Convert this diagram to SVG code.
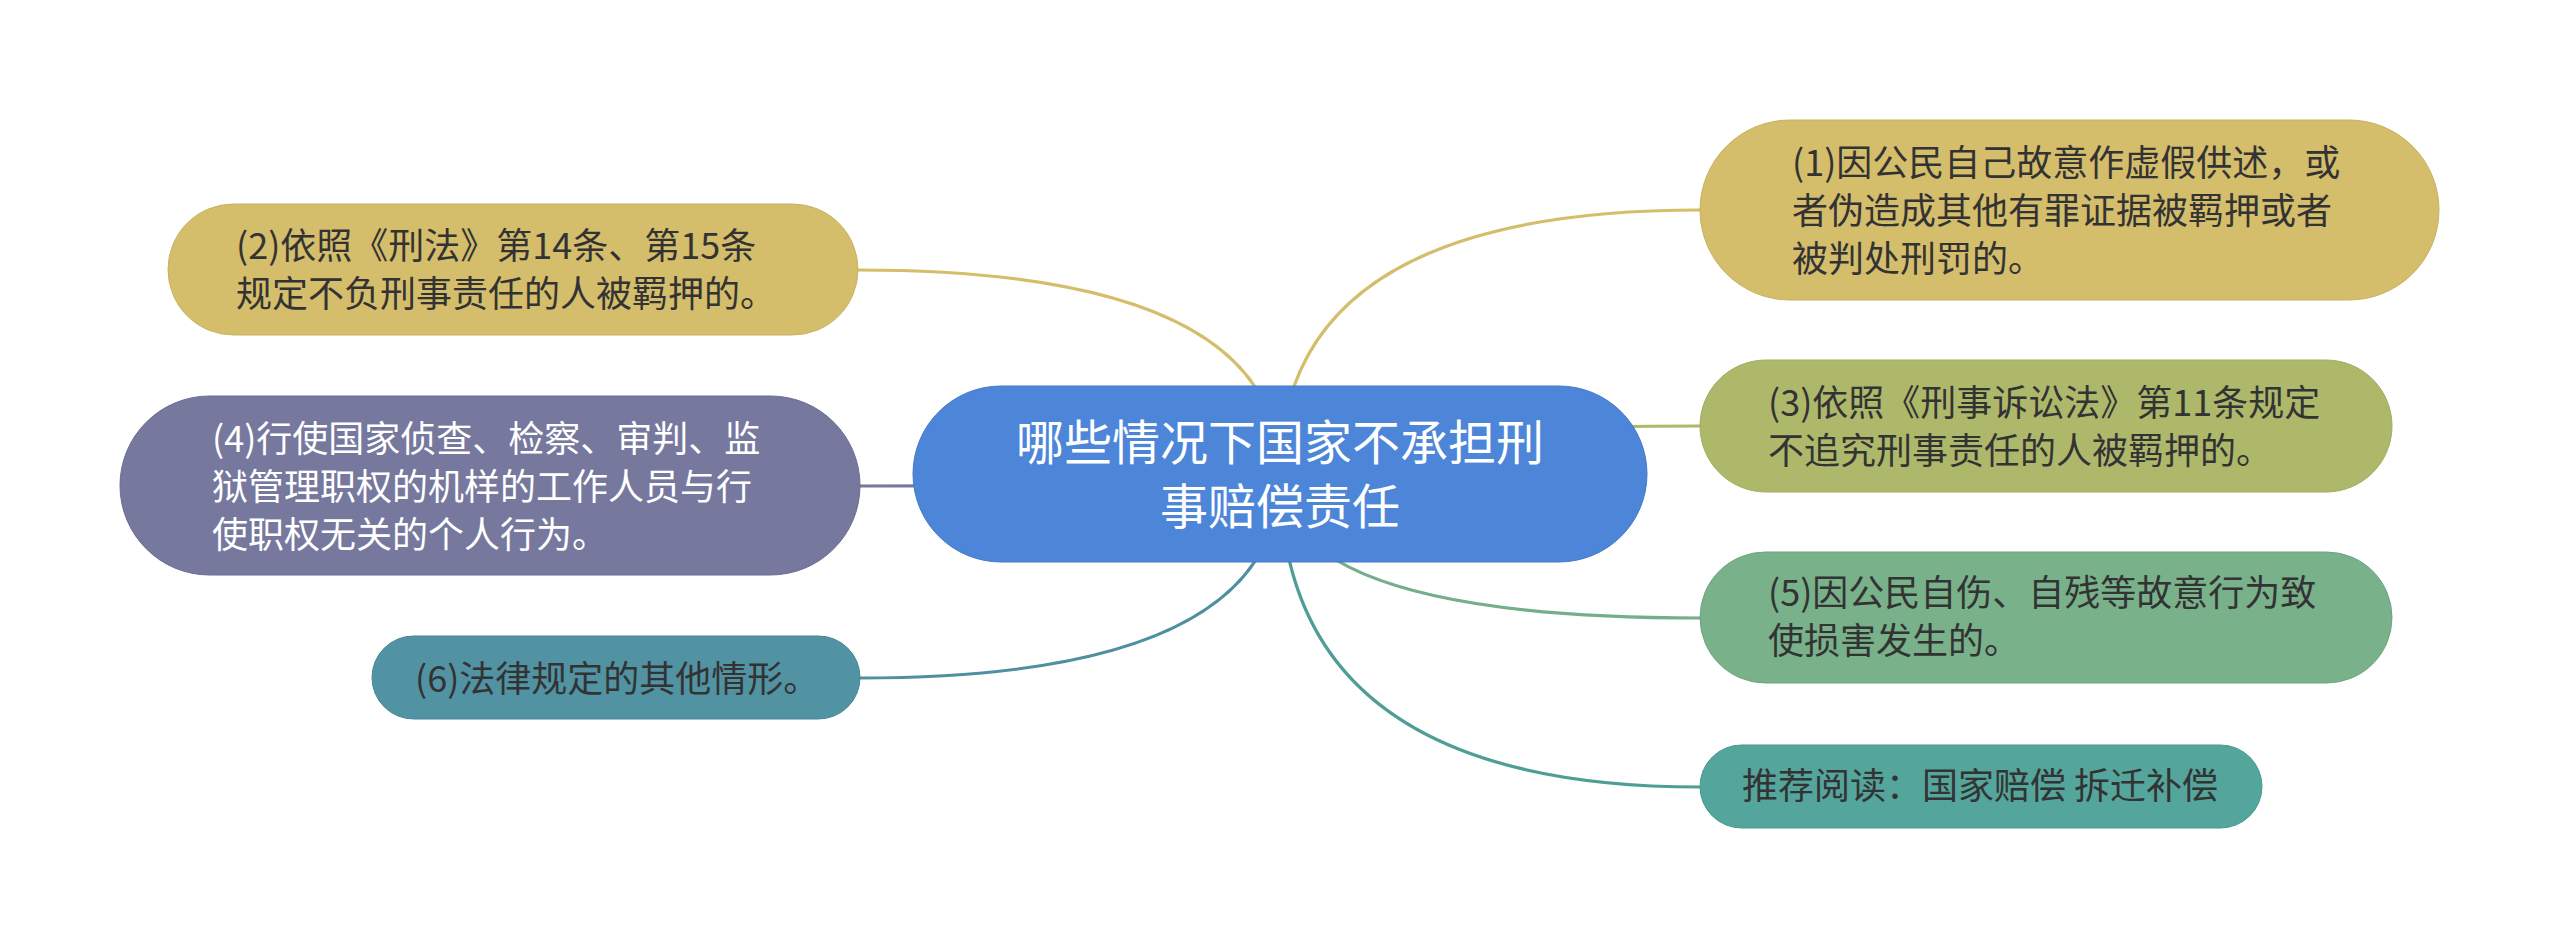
<svg xmlns="http://www.w3.org/2000/svg" width="2560" height="948" viewBox="0 0 2560 948">
  <style>
    .t { font-family: "Noto Sans CJK SC", "Noto Sans", sans-serif; font-size: 36px; fill: #333333; }
    .tw { font-family: "Noto Sans CJK SC", "Noto Sans", sans-serif; font-size: 36px; fill: #ffffff; }
    .root { font-family: "Noto Sans CJK SC", "Noto Sans", sans-serif; font-size: 48px; fill: #ffffff; text-anchor: middle; }
    .c { fill: none; stroke-width: 3.2; stroke-linecap: round; }
  </style>
  <rect x="0" y="0" width="2560" height="948" fill="#ffffff"/>
  <g id="connectors">
    <path class="c" stroke="#D4BD6B" d="M1280 474 Q1280 210 1700 210"/>
    <path class="c" stroke="#D4BD6B" d="M1280 474 Q1280 270 858 270"/>
    <path class="c" stroke="#AEB86B" d="M1280 474 Q1280 426 1700 426"/>
    <path class="c" stroke="#77789E" d="M1280 474 Q1280 486 860 486"/>
    <path class="c" stroke="#74AE8A" d="M1280 474 Q1280 618 1700 618"/>
    <path class="c" stroke="#4F8FA0" d="M1280 474 Q1280 678 860 678"/>
    <path class="c" stroke="#4E9E96" d="M1280 474 Q1280 787 1700 787"/>
  </g>
  <g id="root">
    <rect x="913" y="386" width="734" height="176" rx="88" fill="#4D86D9" stroke="#4479C8" stroke-width="1"/>
    <text class="root" x="1280" y="460">哪些情况下国家不承担刑</text>
    <text class="root" x="1280" y="524">事赔偿责任</text>
  </g>
  <g id="node1">
    <rect x="1700" y="120" width="739" height="180" rx="90" fill="#D4BD6B" stroke="#C9B160" stroke-width="1"/>
    <text class="t" x="1792" y="176">(1)因公民自己故意作虚假供述，或</text>
    <text class="t" x="1792" y="224">者伪造成其他有罪证据被羁押或者</text>
    <text class="t" x="1792" y="272">被判处刑罚的。</text>
  </g>
  <g id="node2">
    <rect x="168" y="204" width="690" height="131" rx="65.5" fill="#D4BD6B" stroke="#C9B160" stroke-width="1"/>
    <text class="t" x="236" y="259">(2)依照《刑法》第14条、第15条</text>
    <text class="t" x="236" y="307">规定不负刑事责任的人被羁押的。</text>
  </g>
  <g id="node3">
    <rect x="1700" y="360" width="692" height="132" rx="66" fill="#AEB86B" stroke="#A2AD60" stroke-width="1"/>
    <text class="t" x="1768" y="416">(3)依照《刑事诉讼法》第11条规定</text>
    <text class="t" x="1768" y="464">不追究刑事责任的人被羁押的。</text>
  </g>
  <g id="node4">
    <rect x="120" y="396" width="740" height="179" rx="89.5" fill="#77789E" stroke="#6B6C92" stroke-width="1"/>
    <text class="tw" x="212" y="452">(4)行使国家侦查、检察、审判、监</text>
    <text class="tw" x="212" y="500">狱管理职权的机样的工作人员与行</text>
    <text class="tw" x="212" y="548">使职权无关的个人行为。</text>
  </g>
  <g id="node5">
    <rect x="1700" y="552" width="692" height="131" rx="65.5" fill="#78B18A" stroke="#6CA57E" stroke-width="1"/>
    <text class="t" x="1768" y="606">(5)因公民自伤、自残等故意行为致</text>
    <text class="t" x="1768" y="654">使损害发生的。</text>
  </g>
  <g id="node6">
    <rect x="372" y="636" width="488" height="83" rx="41.5" fill="#5192A3" stroke="#468596" stroke-width="1"/>
    <text class="t" x="415" y="692">(6)法律规定的其他情形。</text>
  </g>
  <g id="node7">
    <rect x="1700" y="745" width="562" height="83" rx="41.5" fill="#54A59B" stroke="#48988E" stroke-width="1"/>
    <text class="t" x="1742" y="799">推荐阅读：国家赔偿 拆迁补偿</text>
  </g>
</svg>
